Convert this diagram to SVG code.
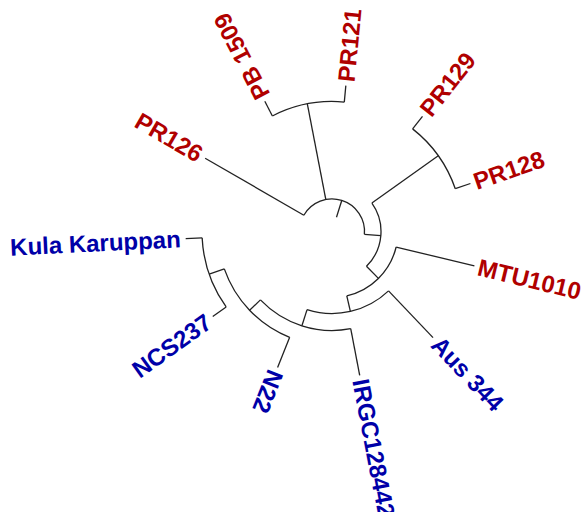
<svg xmlns="http://www.w3.org/2000/svg" width="583" height="512" viewBox="0 0 583 512">
<style>
.e{fill:none;stroke:#222;stroke-width:1.3;stroke-linecap:butt}
text{font-family:"Liberation Sans",Arial,sans-serif;font-size:24px;font-weight:bold}
.r{fill:#B00000}
.b{fill:#0000A8}
</style>
<rect width="583" height="512" fill="#fff"/>
<g transform="translate(332,231.5)">
<g id="connectors" class="e">
<path d="M -28.15 -16.25 A 32.5 32.5 0 0 1 32.38 2.78"/>
<path d="M 39.90 -28.44 A 49 49 0 0 1 34.47 34.83"/>
<path d="M 64.15 15.52 A 66 66 0 0 1 14.79 64.32"/>
<path d="M 56.55 59.38 A 82 82 0 0 1 -24.93 78.12"/>
<path d="M 18.72 97.21 A 99 99 0 0 1 -71.57 68.40"/>
<path d="M -42.34 105.85 A 114 114 0 0 1 -107.69 37.40"/>
<path d="M -105.84 75.49 A 130 130 0 0 1 -129.85 6.35"/>
<path d="M -59.62 -115.52 A 130 130 0 0 1 12.28 -129.42"/>
<path d="M 80.62 -102.62 A 130.5 130.5 0 0 1 123.29 -42.77"/>
<line x1="15" y1="0" x2="32.5" y2="0" transform="rotate(-72.55)"/>
<line x1="32.5" y1="0" x2="146.5" y2="0" transform="rotate(-150)"/>
<line x1="32.5" y1="0" x2="130" y2="0" transform="rotate(-100.94)"/>
<line x1="32.5" y1="0" x2="49" y2="0" transform="rotate(4.9)"/>
<line x1="49" y1="0" x2="130.5" y2="0" transform="rotate(-35.49)"/>
<line x1="49" y1="0" x2="66" y2="0" transform="rotate(45.3)"/>
<line x1="66" y1="0" x2="146.5" y2="0" transform="rotate(13.6)"/>
<line x1="66" y1="0" x2="82" y2="0" transform="rotate(77.05)"/>
<line x1="82" y1="0" x2="146.5" y2="0" transform="rotate(46.4)"/>
<line x1="82" y1="0" x2="99" y2="0" transform="rotate(107.7)"/>
<line x1="99" y1="0" x2="146.5" y2="0" transform="rotate(79.1)"/>
<line x1="99" y1="0" x2="114" y2="0" transform="rotate(136.3)"/>
<line x1="114" y1="0" x2="146.5" y2="0" transform="rotate(111.8)"/>
<line x1="114" y1="0" x2="130" y2="0" transform="rotate(160.85)"/>
<line x1="130" y1="0" x2="146.5" y2="0" transform="rotate(144.5)"/>
<line x1="130" y1="0" x2="146.5" y2="0" transform="rotate(177.2)"/>
<line x1="130" y1="0" x2="146.5" y2="0" transform="rotate(-117.3)"/>
<line x1="130" y1="0" x2="146.5" y2="0" transform="rotate(-84.58)"/>
<line x1="130.5" y1="0" x2="146.5" y2="0" transform="rotate(-51.85)"/>
<line x1="130.5" y1="0" x2="146.5" y2="0" transform="rotate(-19.13)"/>
</g>
<g id="MTU1010"><text class="r" transform="rotate(13.6) translate(150.5,0)" dy="0.35em">MTU1010</text></g>
<g id="PR128"><text class="r" transform="rotate(-19.13) translate(150.5,0)" dy="0.35em">PR128</text></g>
<g id="PR129"><text class="r" transform="rotate(-51.85) translate(150.5,0)" dy="0.35em">PR129</text></g>
<g id="PR121"><text class="r" transform="rotate(-84.58) translate(150.5,0)" dy="0.35em">PR121</text></g>
<g id="PB1509"><text class="r" transform="rotate(-117.3) translate(150.5,0)" dy="0.35em">PB 1509</text></g>
<g id="PR126"><text class="r" text-anchor="end" transform="rotate(30) translate(-151.5,0)" dy="0.35em">PR126</text></g>
<g id="KulaKaruppan"><text class="b" text-anchor="end" transform="rotate(-2.8) translate(-151.5,0)" dy="0.35em">Kula Karuppan</text></g>
<g id="NCS237"><text class="b" text-anchor="end" transform="rotate(-35.5) translate(-151.5,0)" dy="0.35em">NCS237</text></g>
<g id="N22"><text class="b" transform="rotate(111.8) translate(150.5,0)" dy="0.35em">N22</text></g>
<g id="IRGC128442"><text class="b" transform="rotate(79.1) translate(150.5,0)" dy="0.35em">IRGC128442</text></g>
<g id="Aus344"><text class="b" transform="rotate(46.4) translate(150.5,0)" dy="0.35em">Aus 344</text></g>
</g>
</svg>
